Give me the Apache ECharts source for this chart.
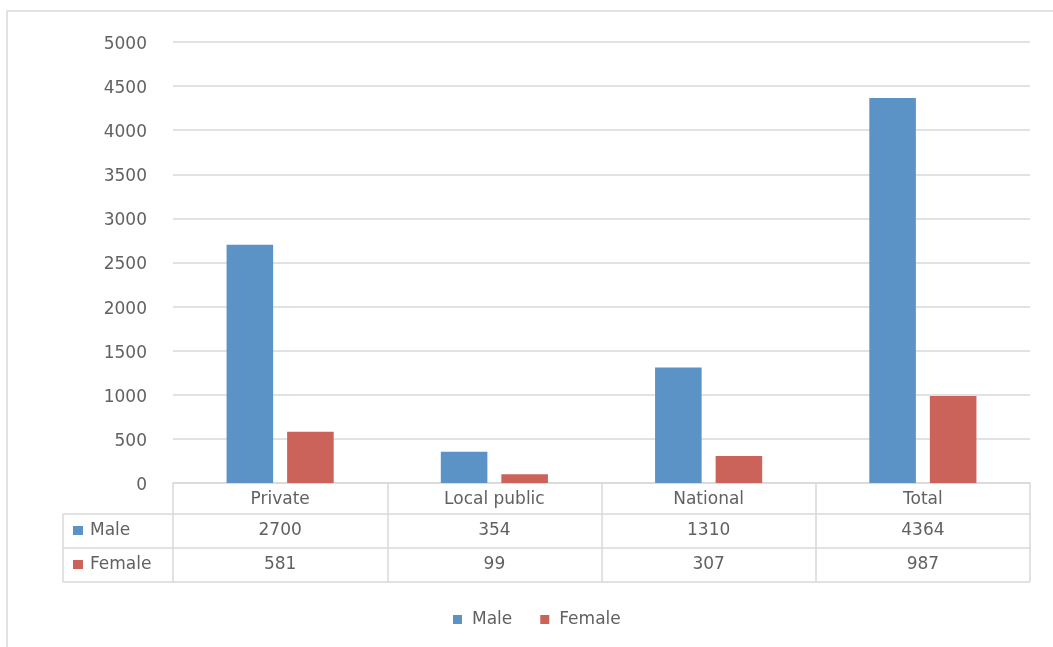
<!DOCTYPE html>
<html>
<head>
<meta charset="utf-8">
<script src="https://cdn.jsdelivr.net/npm/echarts@6/dist/echarts.min.js"></script>
<style>
  html, body { margin: 0; padding: 0; background: #fff; }
  #chart { width: 1053px; height: 647px; }
</style>
</head>
<body>
<div id="chart"></div>
<script>
// Employees by employer type, split by sex
const categories = ['Private', 'Local public', 'National', 'Total'];
const maleValues = [2700, 354, 1310, 4364];
const femaleValues = [581, 99, 307, 987];
const seriesNames = ['Male', 'Female'];
const seriesColors = ['#5b93c7', '#cc635a'];

const W = 1053, H = 647;
const gridLeft = 173, gridRight = 23, gridTop = 42, gridBottom = 164;
const axisY = H - gridBottom;          // baseline of the plot / top of the data table
const rowH = [31, 34, 34];             // header row, Male row, Female row
const tableLeft = 63;
const lineColor = '#d9d9d9';
const textColor = '#616161';
const font = 'DejaVu Sans';
const fontSize = 17;

const chart = echarts.init(document.getElementById('chart'), null, { renderer: 'canvas' });

// Data table drawn beneath the category axis
function tableGraphics() {
  const g = [];
  const plotW = W - gridLeft - gridRight;
  const colW = plotW / categories.length;
  const right = W - gridRight;
  const rowTops = [axisY, axisY + rowH[0], axisY + rowH[0] + rowH[1]];
  const bottom = rowTops[2] + rowH[2];

  // outer frame of the chart area
  g.push({ type: 'rect', shape: { x: 7, y: 11, width: W + 20, height: H + 20 },
           style: { fill: 'none', stroke: lineColor, lineWidth: 1.5 }, silent: true });

  // horizontal rules for the series rows
  [rowTops[1], rowTops[2], bottom].forEach(y => {
    g.push({ type: 'line', shape: { x1: tableLeft, y1: y, x2: right, y2: y },
             style: { stroke: lineColor, lineWidth: 1.5 }, silent: true });
  });
  // left edge of the legend-key column
  g.push({ type: 'line', shape: { x1: tableLeft, y1: rowTops[1], x2: tableLeft, y2: bottom },
           style: { stroke: lineColor, lineWidth: 1.5 }, silent: true });

  const rows = [maleValues, femaleValues];
  rows.forEach((vals, r) => {
    const cy = rowTops[r + 1] + rowH[r + 1] / 2;
    // legend key + name
    g.push({ type: 'rect', shape: { x: 73, y: cy - 5, width: 10, height: 9 },
             style: { fill: seriesColors[r] }, silent: true });
    g.push({ type: 'text', x: 90, y: cy,
             style: { text: seriesNames[r], fill: textColor, font: fontSize + 'px "' + font + '"',
                      textVerticalAlign: 'middle', textAlign: 'left' }, silent: true });
    vals.forEach((v, i) => {
      g.push({ type: 'text', x: gridLeft + colW * (i + 0.5), y: cy,
               style: { text: String(v), fill: textColor, font: fontSize + 'px "' + font + '"',
                        textAlign: 'center', textVerticalAlign: 'middle' }, silent: true });
    });
  });
  return g;
}

const option = {
  backgroundColor: '#ffffff',
  animation: false,
  textStyle: { fontFamily: font, color: textColor },
  grid: { left: gridLeft, right: gridRight, top: gridTop, bottom: gridBottom, containLabel: false },
  legend: {
    data: seriesNames,
    bottom: 19,
    left: 453,
    padding: 0,
    icon: 'rect',
    itemWidth: 9,
    itemHeight: 9,
    itemGap: 28,
    textStyle: { color: textColor, fontSize: fontSize, fontFamily: font, padding: [0, 0, 0, 5] }
  },
  xAxis: {
    type: 'category',
    data: categories,
    axisLine: { show: true, lineStyle: { color: lineColor, width: 1.5 } },
    axisTick: { show: true, length: rowH[0] + rowH[1] + rowH[2], lineStyle: { color: lineColor, width: 1.5 } },
    axisLabel: { color: textColor, fontSize: fontSize, fontFamily: font, margin: 8 }
  },
  yAxis: {
    type: 'value',
    min: 0,
    max: 5000,
    interval: 500,
    axisLine: { show: false },
    axisTick: { show: false },
    axisLabel: {
      margin: 26,
      formatter: v => '{t|' + v + '}',
      rich: { t: { color: textColor, fontSize: fontSize, fontFamily: font, padding: [5, 0, 0, 0] } }
    },
    splitLine: { lineStyle: { color: lineColor, width: 1.5 } }
  },
  series: [
    { name: seriesNames[0], type: 'bar', data: maleValues, barGap: '30%', barCategoryGap: '50%',
      itemStyle: { color: seriesColors[0] } },
    { name: seriesNames[1], type: 'bar', data: femaleValues, barGap: '30%', barCategoryGap: '50%',
      itemStyle: { color: seriesColors[1] } }
  ],
  graphic: tableGraphics()
};

chart.setOption(option);
</script>
</body>
</html>
